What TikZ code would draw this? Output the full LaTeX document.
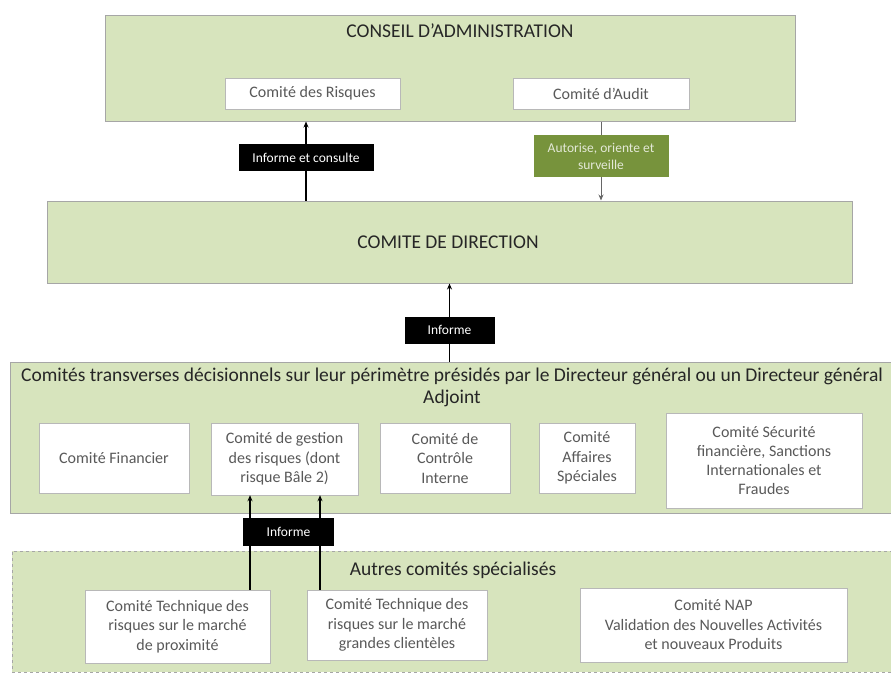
\documentclass[tikz,border=0pt]{standalone}
\usepackage{fontspec}
\setmainfont{Carlito}
\usetikzlibrary{arrows.meta}
\definecolor{vertclair}{HTML}{D7E4BD}
\definecolor{vertfonce}{HTML}{77933C}
\definecolor{gristexte}{HTML}{595959}
\definecolor{bord}{HTML}{A6A6A6}
\begin{document}
\begin{tikzpicture}[x=1pt,y=-1pt,>={Stealth[length=6pt,width=5pt]},
  bloc/.style={draw=bord,fill=vertclair,line width=1pt,inner sep=0pt},
  comite/.style={draw=bord!80,fill=white,text=gristexte,font=\fontsize{16}{19.5}\selectfont,align=center,inner sep=2pt},
  titre/.style={text=black!85,font=\fontsize{19.5}{22}\selectfont,align=center,inner sep=0pt},
  etiq/.style={fill=black,text=white,font=\fontsize{13.5}{15}\selectfont,inner sep=0pt,minimum height=27pt},
  etiqverte/.style={fill=vertfonce,text=white!80!vertfonce,font=\fontsize{13.5}{17}\selectfont,align=center,inner sep=0pt},
  fleche/.style={->,line width=1.3pt},
  flechegrise/.style={->,line width=0.8pt,draw=black!60}]
  \useasboundingbox (0,0) rectangle (891,675);
  \coordinate (x1) at (306,0);
  \coordinate (x2) at (601,0);
  \coordinate (x3) at (250,0);
  \coordinate (x4) at (320,0);
  % conseil
  \node[bloc,minimum width=690,minimum height=106] (ca) at (450,68) {};
  \node[titre] (tca) at (460,31) {CONSEIL D’ADMINISTRATION};
  \node[comite,minimum width=175,minimum height=31] (risq) at (312.5,93.5) {Comité des Risques};
  \node[comite,minimum width=176,minimum height=31] (audit) at (601,93.5) {Comité d’Audit};
  % direction
  \node[bloc,minimum width=805,minimum height=82] (dir) at (449.5,242) {};
  \node[titre] (tdir) at (448,242) {COMITE DE DIRECTION};
  % comites transverses
  \node[bloc,minimum width=895,minimum height=151] (trans) at (457.5,437.5) {};
  \node[titre] (ttrans) at (452,387) {Comités transverses décisionnels sur leur périmètre présidés par le Directeur général ou un Directeur général\\Adjoint};
  \node[comite,minimum width=150,minimum height=70] (fin) at (114,458) {Comité Financier};
  \node[comite,minimum width=147,minimum height=72] (gest) at (284.5,459) {Comité de gestion\\des risques (dont\\risque Bâle 2)};
  \node[comite,minimum width=130,minimum height=70] (ctrl) at (445,458) {Comité de\\Contrôle\\Interne};
  \node[comite,minimum width=96,minimum height=70] (aff) at (587,458) {Comité\\Affaires\\Spéciales};
  \node[comite,minimum width=196,minimum height=95,font=\fontsize{16}{19}\selectfont] (secu) at (764,460.5) {Comité Sécurité\\financière, Sanctions\\Internationales et\\Fraudes};
  % autres comites
  \node[bloc,dashed,minimum width=893,minimum height=121] (autres) at (458.5,611.5) {};
  \node[titre] (tautres) at (453,570) {Autres comités spécialisés};
  \node[comite,minimum width=185,minimum height=73] (tp) at (177.5,626.5) {Comité Technique des\\risques sur le marché\\de proximité};
  \node[comite,minimum width=180,minimum height=70] (gc) at (397,625) {Comité Technique des\\risques sur le marché\\grandes clientèles};
  \node[comite,minimum width=267,minimum height=74] (nap) at (713.5,625) {Comité NAP\\Validation des Nouvelles Activités\\et nouveaux Produits};
  % fleches
  \draw[fleche] (dir.north -| x1) -- node[etiq,pos=0.54,minimum width=135] (inf1) {Informe et consulte} (ca.south -| x1);
  \draw[flechegrise] (ca.south -| x2) -- node[etiqverte,pos=0.44,minimum width=135,minimum height=42] (aut) {Autorise, oriente et\\surveille} (dir.north -| x2);
  \draw[fleche] (trans.north -| dir) -- node[etiq,pos=0.4,minimum width=90] (inf2) {Informe} (dir.south);
  \draw[fleche] (tp.north -| x3) -- (gest.south -| x3);
  \draw[fleche] (gc.north -| x4) -- (gest.south -| x4);
  \node[etiq,minimum width=91,minimum height=28] (inf3) at (288.5,532) {Informe};
\end{tikzpicture}
\end{document}
